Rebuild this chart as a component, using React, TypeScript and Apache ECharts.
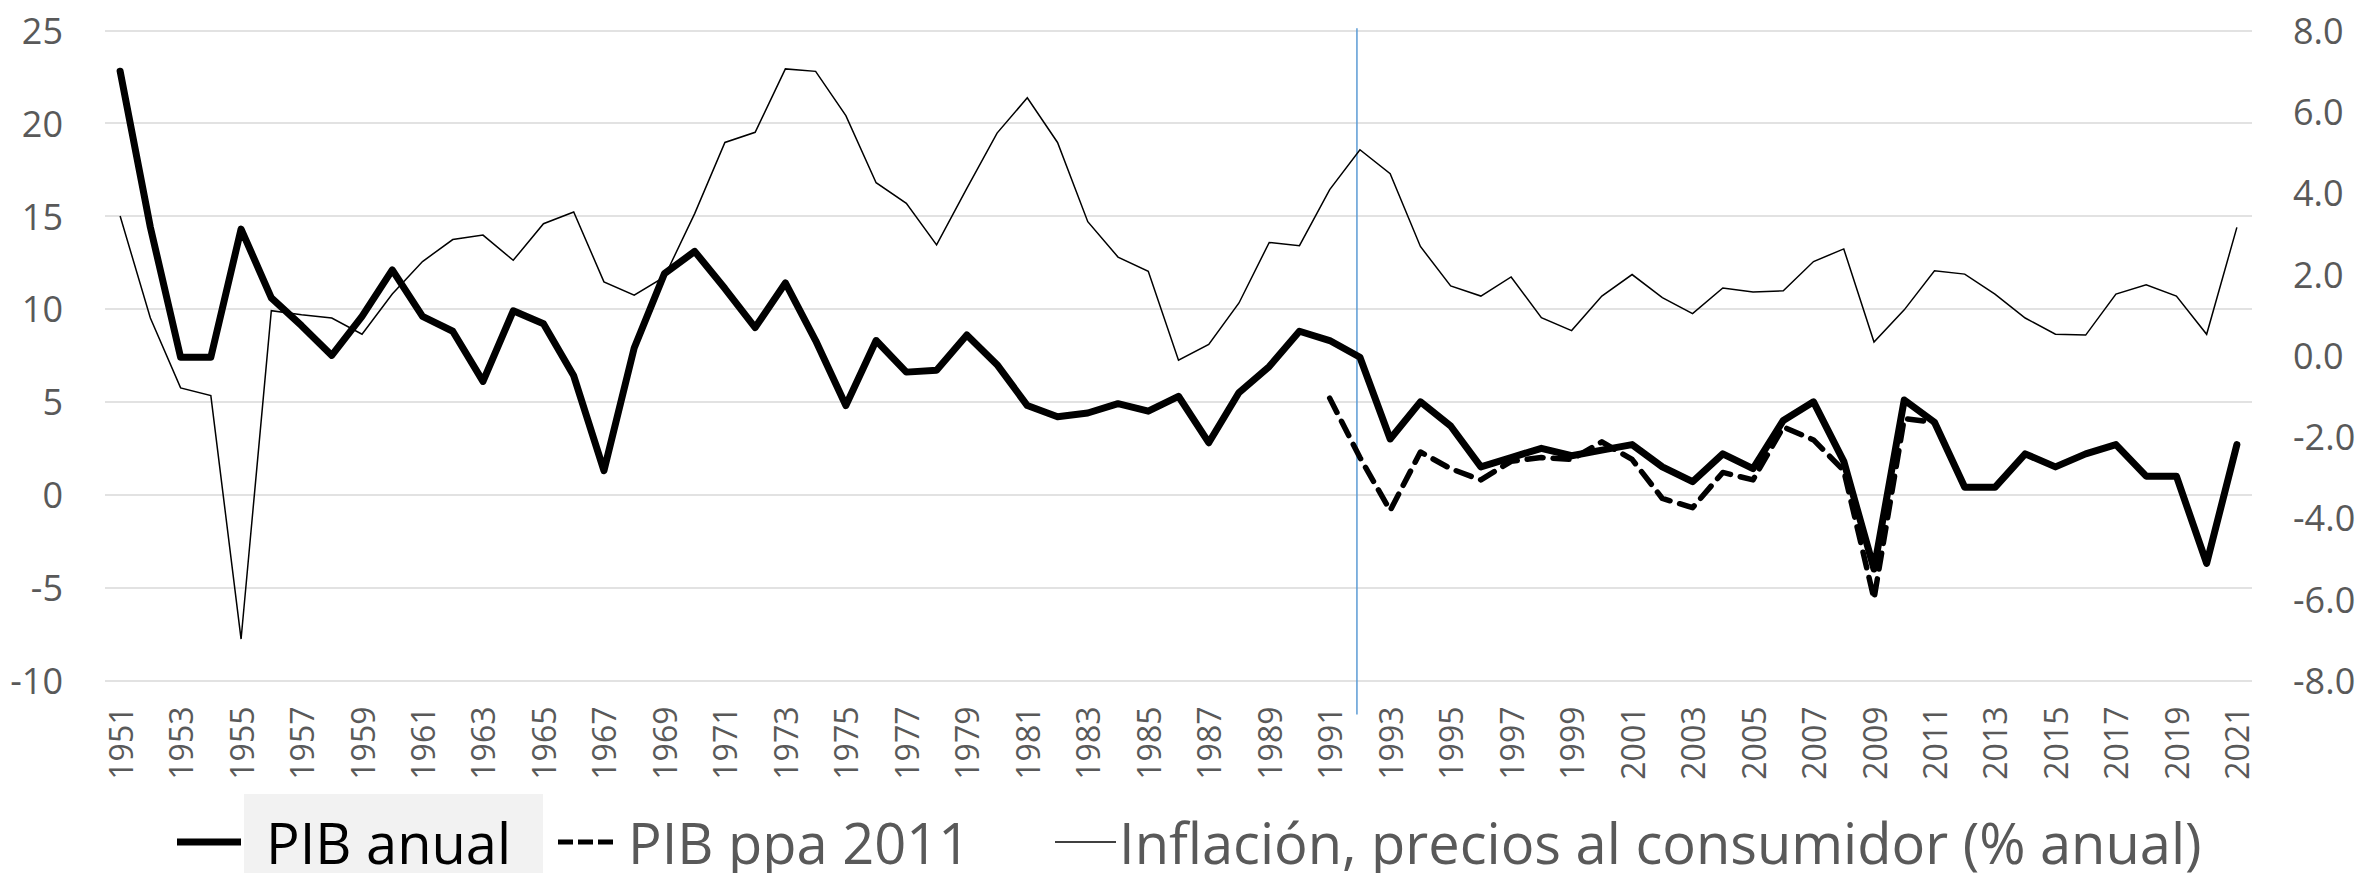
import React, { useEffect, useRef } from "react";
import * as echarts from "echarts";

const years: string[] = [
  "1951","1952","1953","1954","1955","1956","1957","1958","1959","1960",
  "1961","1962","1963","1964","1965","1966","1967","1968","1969","1970",
  "1971","1972","1973","1974","1975","1976","1977","1978","1979","1980",
  "1981","1982","1983","1984","1985","1986","1987","1988","1989","1990",
  "1991","1992","1993","1994","1995","1996","1997","1998","1999","2000",
  "2001","2002","2003","2004","2005","2006","2007","2008","2009","2010",
  "2011","2012","2013","2014","2015","2016","2017","2018","2019","2020",
  "2021",
];

// PIB anual (% growth), left axis
const pibAnual: number[] = [
  22.8, 14.4, 7.4, 7.4, 14.3, 10.6, 9.1, 7.5, 9.6, 12.1,
  9.6, 8.8, 6.1, 9.9, 9.2, 6.4, 1.3, 7.9, 11.9, 13.1,
  11.1, 9.0, 11.4, 8.3, 4.8, 8.3, 6.6, 6.7, 8.6, 7.0,
  4.8, 4.2, 4.4, 4.9, 4.5, 5.3, 2.8, 5.5, 6.9, 8.8,
  8.3, 7.4, 3.0, 5.0, 3.7, 1.5, 2.0, 2.5, 2.1, 2.4,
  2.7, 1.5, 0.7, 2.2, 1.4, 4.0, 5.0, 1.8, -4.0, 5.1,
  3.9, 0.4, 0.4, 2.2, 1.5, 2.2, 2.7, 1.0, 1.0, -3.7,
  2.7,
];

// PIB ppa 2011 (1991-2011), left axis
const pibPpa2011: (number | null)[] = [
  null, null, null, null, null, null, null, null, null, null,
  null, null, null, null, null, null, null, null, null, null,
  null, null, null, null, null, null, null, null, null, null,
  null, null, null, null, null, null, null, null, null, null,
  5.2, 2.0, -0.85, 2.3, 1.4, 0.8, 1.8, 2.0, 1.9, 2.85,
  1.9, -0.2, -0.7, 1.2, 0.8, 3.65, 2.95, 1.3, -5.6, 4.1,
  3.9, null, null, null, null, null, null, null, null, null,
  null,
];

// Inflación, precios al consumidor (% anual), right axis
const inflacion: number[] = [
  3.43, 0.92, -0.8, -0.99, -6.98, 1.1, 1.0, 0.92, 0.52, 1.51,
  2.31, 2.85, 2.96, 2.34, 3.24, 3.53, 1.81, 1.48, 1.93, 3.49,
  5.24, 5.49, 7.05, 6.99, 5.9, 4.25, 3.74, 2.72, 4.11, 5.47,
  6.34, 5.24, 3.29, 2.42, 2.07, -0.12, 0.27, 1.29, 2.78, 2.7,
  4.08, 5.06, 4.47, 2.68, 1.71, 1.46, 1.93, 0.93, 0.61, 1.46,
  1.99, 1.42, 1.03, 1.66, 1.56, 1.59, 2.31, 2.62, 0.33, 1.12,
  2.08, 2.0, 1.51, 0.92, 0.52, 0.5, 1.51, 1.74, 1.46, 0.52,
  3.15,
];

const seriesNames = [
  "PIB anual",
  "PIB ppa 2011",
  "Inflación, precios al consumidor (% anual)",
];
const leftAxisRange = { min: -10, max: 25, interval: 5 };
const rightAxisRange = { min: -8, max: 8, interval: 2 };
const markerYear = "1992";

const FONT = "'Open Sans', 'Noto Sans', sans-serif";
const GREY = "#595959";
const DASH_ICON = "path://M0,0h15v5h-15z M20,0h15v5h-15z M40,0h15v5h-15z";

export default function App() {
  const ref = useRef<HTMLDivElement>(null);

  useEffect(() => {
    if (!ref.current) return;
    const chart = echarts.init(ref.current, undefined, { renderer: "svg" });
    const legendText = (color: string, extra: any = {}) => ({
      color,
      fontSize: 56,
      fontFamily: FONT,
      lineHeight: 56,
      ...extra,
    });
    chart.setOption({
      animation: false,
      backgroundColor: "#ffffff",
      textStyle: { fontFamily: FONT },
      grid: { left: 105, right: 112, top: 30.3, bottom: 192.5, containLabel: false },
      legend: [
        {
          data: [{ name: seriesNames[0], icon: "rect" }],
          left: 177,
          top: 814,
          itemWidth: 64,
          itemHeight: 7,
          padding: 0,
          itemStyle: { color: "#000000" },
          textStyle: legendText("#000000", { padding: [0, 0, 0, 20] }),
        },
        {
          data: [{ name: seriesNames[1], icon: DASH_ICON }],
          left: 558,
          top: 814,
          itemWidth: 55,
          itemHeight: 5,
          padding: 0,
          itemStyle: { color: "#000000" },
          textStyle: legendText(GREY, { padding: [0, 0, 0, 10] }),
        },
        {
          data: [{ name: seriesNames[2], icon: "rect" }],
          left: 1055,
          top: 814,
          itemWidth: 61,
          itemHeight: 1.5,
          padding: 0,
          itemStyle: { color: "#000000" },
          textStyle: legendText(GREY, { padding: [0, 0, 0, -2] }),
        },
      ],
      xAxis: {
        type: "category",
        data: years,
        boundaryGap: true,
        axisLine: { show: false },
        axisTick: { show: false },
        axisLabel: {
          interval: 1,
          rotate: 90,
          margin: 26,
          color: GREY,
          fontSize: 32,
          fontFamily: FONT,
        },
      },
      yAxis: [
        {
          type: "value",
          ...leftAxisRange,
          axisLine: { show: false },
          axisTick: { show: false },
          splitLine: { show: true, lineStyle: { color: "#D9D9D9", width: 1.5 } },
          axisLabel: { color: GREY, fontSize: 36, fontFamily: FONT, margin: 42 },
        },
        {
          type: "value",
          ...rightAxisRange,
          axisLine: { show: false },
          axisTick: { show: false },
          splitLine: { show: false },
          axisLabel: {
            color: GREY,
            fontSize: 36,
            fontFamily: FONT,
            margin: 41,
            formatter: (v: number) => v.toFixed(1),
          },
        },
      ],
      series: [
        {
          name: seriesNames[2],
          type: "line",
          yAxisIndex: 1,
          data: inflacion,
          symbol: "none",
          z: 2,
          lineStyle: { color: "#000000", width: 1.5, join: "miter" },
          itemStyle: { color: "#000000" },
        },
        {
          name: seriesNames[1],
          type: "line",
          yAxisIndex: 0,
          data: pibPpa2011,
          symbol: "none",
          z: 3,
          connectNulls: false,
          lineStyle: { color: "#000000", width: 5.5, type: [16, 10], cap: "round", join: "round" },
          itemStyle: { color: "#000000" },
        },
        {
          name: seriesNames[0],
          type: "line",
          yAxisIndex: 0,
          data: pibAnual,
          symbol: "none",
          z: 4,
          lineStyle: { color: "#000000", width: 7, cap: "round", join: "round" },
          itemStyle: { color: "#000000" },
        },
      ],
      graphic: [
        {
          id: "legendHighlight",
          type: "rect",
          z: -10,
          silent: true,
          shape: { x: 244, y: 794, width: 299, height: 79 },
          style: { fill: "#F2F2F2" },
        },
      ],
    });

    const px = chart.convertToPixel({ xAxisIndex: 0 }, markerYear) as number;
    const yTop = chart.convertToPixel({ yAxisIndex: 0 }, leftAxisRange.max) as number;
    const yBottom = chart.convertToPixel({ yAxisIndex: 0 }, leftAxisRange.min) as number;
    chart.setOption({
      graphic: [
        {
          id: "markerLine",
          type: "line",
          z: 1,
          silent: true,
          shape: { x1: px - 3, y1: yTop - 2, x2: px - 3, y2: yBottom + 34 },
          style: { stroke: "#5B9BD5", lineWidth: 1.5 },
        },
      ],
    });

    return () => chart.dispose();
  }, []);

  return (
    <div
      ref={ref}
      style={{ position: "fixed", left: 0, top: 0, width: 2364, height: 873, background: "#fff" }}
    />
  );
}
